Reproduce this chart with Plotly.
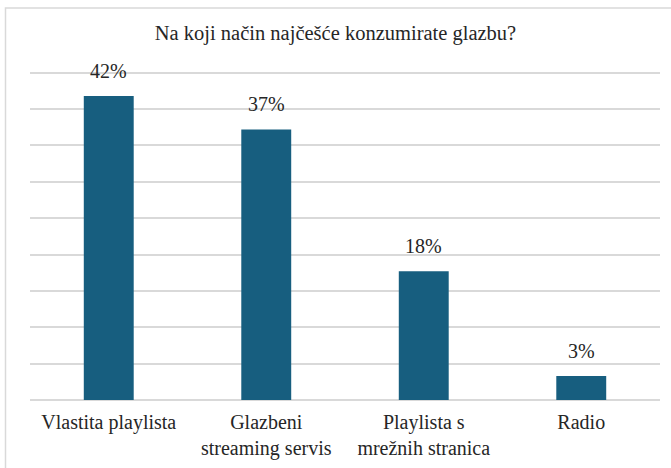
import plotly.graph_objects as go

categories = ["Vlastita playlista", "Glazbeni<br>streaming servis", "Playlista s<br>mrežnih stranica", "Radio"]
values = [41.8, 37.2, 17.7, 3.3]
labels = ["42%", "37%", "18%", "3%"]

W, H = 671, 468
L, R, T, B = 30, 11, 69.4, 68
pw, ph = W - L - R, H - T - B
TXT = "#262626"
FONT = "Liberation Serif, Times New Roman, serif"

fig = go.Figure()

fig.add_trace(
    go.Bar(
        x=categories,
        y=values,
        marker=dict(color="#175E7F", line=dict(width=0)),
        width=0.317,
        hoverinfo="skip",
    )
)

# value labels above the bars
for cat, val, lab in zip(categories, values, labels):
    fig.add_annotation(
        x=cat,
        y=val,
        text=lab,
        showarrow=False,
        yanchor="middle",
        yshift=25,
        font=dict(family=FONT, size=20, color=TXT),
    )

fig.update_layout(
    width=W,
    height=H,
    paper_bgcolor="white",
    plot_bgcolor="white",
    margin=dict(l=L, r=R, t=T, b=B, autoexpand=False),
    showlegend=False,
    font=dict(family=FONT, size=20, color=TXT),
    title=dict(
        text="Na koji način najčešće konzumirate glazbu?",
        x=0.5,
        xanchor="center",
        y=1 - 33 / H,
        yanchor="middle",
        font=dict(family=FONT, size=20.5, color=TXT),
    ),
    # light frame round the chart
    shapes=[
        dict(
            type="rect",
            xref="paper",
            yref="paper",
            x0=(5.5 - L) / pw,
            x1=(W + 5 - L) / pw,
            y0=-(B + 5) / ph,
            y1=1 + (T - 8.5) / ph,
            line=dict(color="#D9D9D9", width=1.5),
            layer="below",
        )
    ],
)

fig.update_xaxes(
    showgrid=False,
    showline=False,
    ticks="",
    automargin=False,
    ticklabelstandoff=8,
    tickfont=dict(family=FONT, size=20, color=TXT),
)

fig.update_yaxes(
    range=[0, 45.5],
    dtick=5,
    showticklabels=False,
    automargin=False,
    gridcolor="#D9D9D9",
    gridwidth=1.5,
    zeroline=True,
    zerolinecolor="#D9D9D9",
    zerolinewidth=1.5,
    showline=False,
)

fig.write_html(
    "out.html",
    config={"displayModeBar": False},
    post_script="document.body.style.margin='0';document.body.style.overflow='hidden';",
)
